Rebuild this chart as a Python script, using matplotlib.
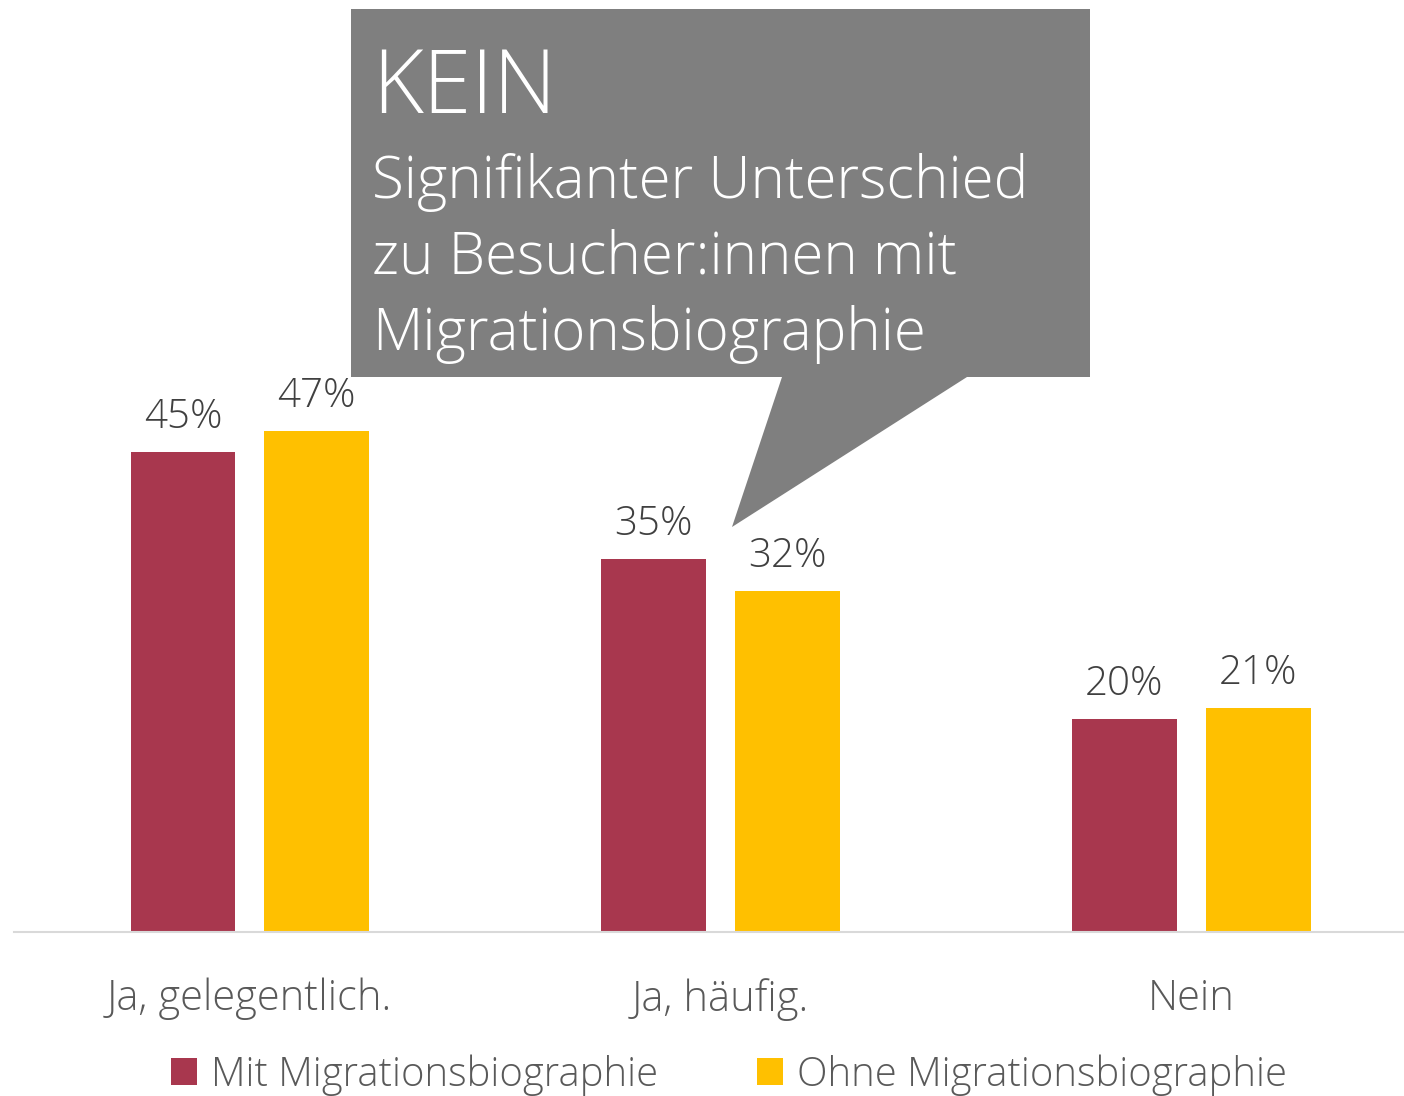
import matplotlib
matplotlib.use('Agg')
import matplotlib.pyplot as plt
import numpy as np
from matplotlib.patches import Polygon

categories = ['Ja, gelegentlich.', 'Ja, häufig.', 'Nein']
mit_migration = [45, 35, 20]
ohne_migration = [47, 32, 21]
series_names = ['Mit Migrationsbiographie', 'Ohne Migrationsbiographie']

MAROON = '#A8374E'
YELLOW = '#FFC000'
GRAY_TXT = '#595959'

plt.rcParams['font.family'] = ['Open Sans', 'DejaVu Sans']

W, H = 1404, 1096
fig = plt.figure(figsize=(W / 100, H / 100), dpi=100)

# axes: left 14px, right 1404px, baseline 932px, top 10px
ax = fig.add_axes([14 / W, (H - 932) / H, (1404 - 14) / W, 922 / H])
x = np.arange(len(categories))
width = 0.223
off = 0.142
b1 = ax.bar(x - off, mit_migration, width, color=MAROON, label=series_names[0])
b2 = ax.bar(x + off, ohne_migration, width, color=YELLOW, label=series_names[1])
ax.set_xlim(-0.501, 2.452)
ax.set_ylim(0, 86.5)

for bars, vals in ((b1, mit_migration), (b2, ohne_migration)):
    for r, v in zip(bars, vals):
        ax.text(r.get_x() + r.get_width() / 2, v + 1.3, f'{v}%', ha='center', va='bottom',
                fontsize=29, color='#404040', fontweight='light')

for s in ('top', 'right', 'left'):
    ax.spines[s].set_visible(False)
ax.spines['bottom'].set_color('#D9D9D9')
ax.spines['bottom'].set_linewidth(1.5)
ax.set_yticks([])
ax.set_xticks(x)
ax.set_xticklabels(categories, fontsize=30, color=GRAY_TXT, fontweight='light')
ax.tick_params(axis='x', length=0, pad=33)

# legend
leg = ax.legend(loc='center', bbox_to_anchor=(0.5144, -0.155), ncol=2, frameon=False,
                prop={'size': 28.8, 'weight': 'light'}, labelcolor=GRAY_TXT,
                handlelength=0.65, handleheight=0.65, handletextpad=0.35,
                columnspacing=2.45)

# callout (figure pixel coordinates, y from top)
def P(px, py):
    return (px / W, 1 - py / H)

box = Polygon([P(351, 9), P(1090, 9), P(1090, 377), P(967, 377), P(732, 527),
               P(782, 377), P(351, 377)], closed=True, transform=fig.transFigure,
              facecolor='#7F7F7F', edgecolor='none')
fig.patches.append(box)

fig.text(372 / W, 1 - 113 / H, 'KEIN', fontsize=63, color='white',
         fontweight='light', va='baseline', ha='left')
for i, line in enumerate(['Signifikanter Unterschied', 'zu Besucher:innen mit',
                          'Migrationsbiographie']):
    fig.text(372 / W, 1 - (198 + 76 * i) / H, line, fontsize=42, color='white',
             fontweight='light', va='baseline', ha='left')

fig.savefig('out.png', dpi=100)
